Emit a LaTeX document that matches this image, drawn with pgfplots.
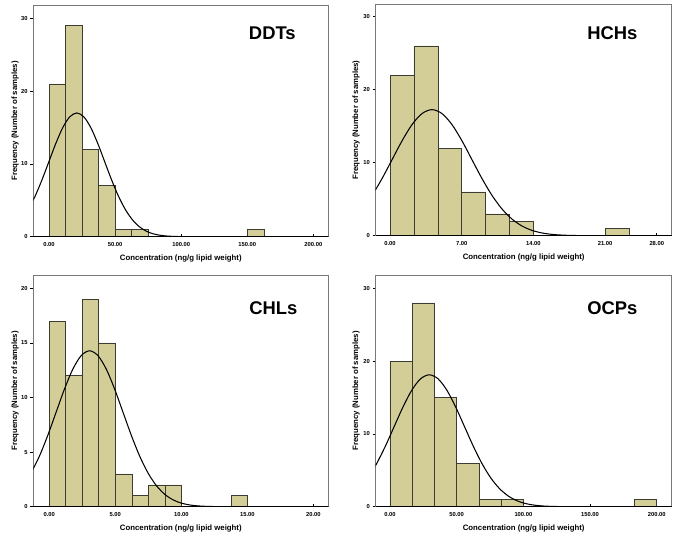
\documentclass[border=0pt]{standalone}
\usepackage{pgfplots}
\pgfplotsset{compat=1.18}
\usepackage{fontspec}
\setmainfont{Liberation Sans}
\definecolor{barfill}{RGB}{211,206,152}
\definecolor{bardraw}{RGB}{60,60,50}
\definecolor{framegray}{RGB}{120,120,120}
\pgfplotsset{hist/.style={
  scale only axis, anchor=south west, ymin=0,
  axis line style={framegray, line width=0.6pt},
  xtick pos=bottom, ytick pos=left,
  xtick align=inside, ytick align=outside,
  major tick length=3pt,
  tick style={black, line width=0.6pt},
  minor tick num=0,
  scaled ticks=false,
  /pgf/number format/assume math mode=true,
  tick label style={font=\fontsize{5.8}{6}\selectfont\bfseries},
  xticklabel style={inner sep=1pt, yshift=-4.6pt},
  yticklabel style={inner sep=1pt, xshift=-1.6pt},
  label style={font=\fontsize{7.8}{9}\selectfont\bfseries},
  xlabel={Concentration (ng/g lipid weight)},
  ylabel={Frequency (Number of samples)},
  xlabel style={at={(axis description cs:0.5,-0.094)}, anchor=center},
},
bars/.style={ybar interval, fill=barfill, draw=bardraw, line width=0.6pt},
curve/.style={black, line width=1.05pt, smooth, no markers},
}
\begin{document}
\begin{tikzpicture}
\path[use as bounding box, fill=white] (0,0) rectangle (680pt,542pt);

% ---------- DDTs ----------
\begin{axis}[hist, at={(33.3pt,305.3pt)}, width=295pt, height=231.7pt,
  xmin=-11.9, xmax=211.3, ymax=31.83,
  xtick={0,50,100,150,200}, xticklabels={0.00,50.00,100.00,150.00,200.00},
  ytick={0,10,20,30},
  ylabel style={at={(axis description cs:-0.062,0.5)}, anchor=center}]
\addplot[bars] coordinates {(0,21) (12.5,29) (25,12) (37.5,7) (50,1) (62.5,1) (75,0)};
\addplot[bars] coordinates {(150,1) (162.5,0)};
\addplot[curve] coordinates {
(-15.93,3.677) (-10.65,5.519) (-5.38,7.783) (-0.10,10.311) (5.18,12.832)
(10.45,15.003) (15.73,16.477) (21,17.0) (26.28,16.477) (31.55,15.003)
(36.83,12.832) (42.1,10.311) (47.38,7.783) (52.65,5.519) (57.93,3.677)
(63.2,2.301) (68.48,1.353) (73.75,0.747) (79.03,0.387) (84.3,0.189)
(89.58,0.0865) (94.85,0.0372) (100.13,0.0150) (105.4,0.0057) (115.95,0.0007) (215,0)};
\node[anchor=base east, inner sep=0pt, font=\fontsize{18.4}{20}\selectfont\bfseries] at (rel axis cs:0.89,0.852) {DDTs};
\end{axis}
\draw[black, line width=1.1pt] (current axis.south west) -- (current axis.south east);

% ---------- HCHs ----------
\begin{axis}[hist, at={(375.7pt,306.3pt)}, width=296pt, height=231.4pt,
  xmin=-1.40, xmax=27.51, ymax=31.7,
  xtick={0,7,14,21,26.05}, xticklabels={0.00,7.00,14.00,21.00,28.00},
  ytick={0,10,20,30},
  ylabel style={at={(axis description cs:-0.0666,0.5)}, anchor=center}]
\addplot[bars] coordinates {(0,22) (2.3333,26) (4.6667,12) (7,6) (9.3333,3) (11.6667,2) (14,0)};
\addplot[bars] coordinates {(21,1) (23.3333,0)};
\addplot[curve] coordinates {
(-2.69,3.735) (-1.72,5.607) (-0.75,7.907) (0.22,10.475) (1.19,13.036)
(2.16,15.241) (3.13,16.739) (4.1,17.27) (5.07,16.739) (6.04,15.241)
(7.01,13.036) (7.98,10.475) (8.95,7.907) (9.92,5.607) (10.89,3.735)
(11.86,2.337) (12.83,1.374) (13.80,0.759) (14.77,0.394) (15.74,0.192)
(16.71,0.0878) (17.68,0.0378) (18.65,0.0153) (19.62,0.0058) (21.56,0.0007) (30,0)};
\node[anchor=base east, inner sep=0pt, font=\fontsize{18.4}{20}\selectfont\bfseries] at (rel axis cs:0.885,0.849) {HCHs};
\end{axis}
\draw[black, line width=1.1pt] (current axis.south west) -- (current axis.south east);

% ---------- CHLs ----------
\begin{axis}[hist, at={(33.3pt,35.3pt)}, width=295pt, height=231.7pt,
  xmin=-1.21, xmax=21.13, ymax=21.22,
  xtick={0,5,10,15,20}, xticklabels={0.00,5.00,10.00,15.00,20.00},
  ytick={0,5,10,15,20},
  ylabel style={at={(axis description cs:-0.062,0.5)}, anchor=center}]
\addplot[bars] coordinates {(0,17) (1.25,12) (2.5,19) (3.75,15) (5,3) (6.25,1) (7.5,2) (8.75,2) (10,0)};
\addplot[bars] coordinates {(13.75,1) (15,0)};
\addplot[curve] coordinates {
(-1.378,3.088) (-0.745,4.636) (-0.1125,6.538) (0.52,8.661) (1.1525,10.779)
(1.785,12.602) (2.4175,13.841) (3.05,14.28) (3.6825,13.841) (4.315,12.602)
(4.9475,10.779) (5.58,8.661) (6.2125,6.538) (6.845,4.636) (7.4775,3.088)
(8.11,1.933) (8.7425,1.136) (9.375,0.627) (10.0075,0.325) (10.64,0.159)
(11.2725,0.0726) (11.905,0.0312) (12.5375,0.0126) (13.17,0.0048) (14.435,0.0006) (22,0)};
\node[anchor=base east, inner sep=0pt, font=\fontsize{18.4}{20}\selectfont\bfseries] at (rel axis cs:0.896,0.830) {CHLs};
\end{axis}
\draw[black, line width=1.1pt] (current axis.south west) -- (current axis.south east);

% ---------- OCPs ----------
\begin{axis}[hist, at={(375.7pt,35.3pt)}, width=296pt, height=231.7pt,
  xmin=-10.7, xmax=211.2, ymax=31.83,
  xtick={0,50,100,150,200}, xticklabels={0.00,50.00,100.00,150.00,200.00},
  ytick={0,10,20,30},
  ylabel style={at={(axis description cs:-0.0666,0.5)}, anchor=center}]
\addplot[bars] coordinates {(0,20) (16.667,28) (33.333,15) (50,6) (66.667,1) (83.333,1) (100,0)};
\addplot[bars] coordinates {(183.333,1) (200,0)};
\addplot[curve] coordinates {
(-16.7,3.919) (-10.1,5.883) (-3.5,8.296) (3.1,10.990) (9.7,13.678)
(16.3,15.991) (22.9,17.562) (29.5,18.12) (36.1,17.562) (42.7,15.991)
(49.3,13.678) (55.9,10.990) (62.5,8.296) (69.1,5.883) (75.7,3.919)
(82.3,2.452) (88.9,1.442) (95.5,0.796) (102.1,0.413) (108.7,0.201)
(115.3,0.0922) (121.9,0.0396) (128.5,0.0160) (135.1,0.0061) (148.3,0.0007) (215,0)};
\node[anchor=base east, inner sep=0pt, font=\fontsize{18.4}{20}\selectfont\bfseries] at (rel axis cs:0.885,0.830) {OCPs};
\end{axis}
\draw[black, line width=1.1pt] (current axis.south west) -- (current axis.south east);
\end{tikzpicture}
\end{document}
